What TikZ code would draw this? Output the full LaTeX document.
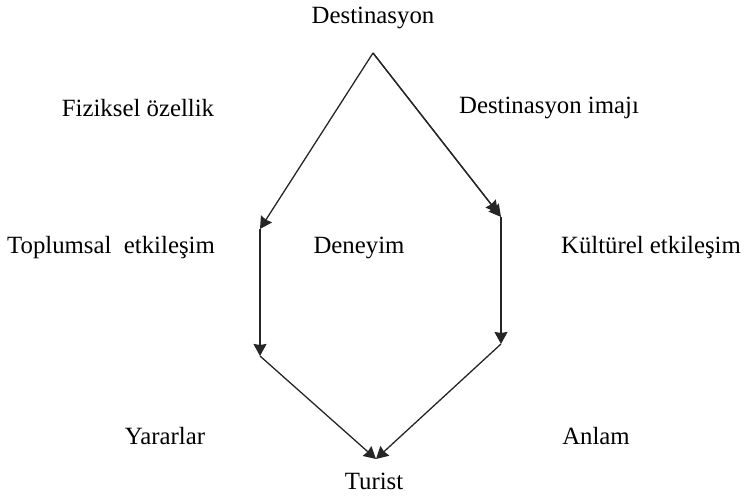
\documentclass[tikz,border=0pt]{standalone}
\usepackage{fontspec}
\setmainfont{Liberation Serif}
\usetikzlibrary{arrows.meta, positioning}

\begin{document}
\begin{tikzpicture}[
    x=0.5pt, y=-0.5pt,
    lbl/.style={font=\fontsize{12.4}{15}\selectfont, inner sep=0pt},
    flow/.style={-{Stealth[length=6pt, width=6.5pt, inset=0.5pt]}, line width=0.65pt, black!85},
]
\useasboundingbox (0,0) rectangle (746,497);

% Labels
\node[lbl] (dest) at (373,18) {Destinasyon};
\node[lbl] (fiz) at (138,108) {Fiziksel özellik};
\node[lbl] (imaj) at (549,108) {Destinasyon imajı};
\node[lbl] (toplum) at (111,248) {Toplumsal\ \ etkileşim};
\node[lbl] (deneyim) at (359,248) {Deneyim};
\node[lbl] (kultur) at (651,248) {Kültürel etkileşim};
\node[lbl] (yarar) at (165,436) {Yararlar};
\node[lbl] (anlam) at (596,436) {Anlam};
\node[lbl] (turist) at (374,481) {Turist};

% Corners of the hexagon
\coordinate (apex) at (373,53);
\coordinate (lt) at (260,229);
\coordinate (lb) at (260,356);
\coordinate (rt) at (501,217);
\coordinate (rt2) at (498,213);
\coordinate (rb) at (501,344);
\coordinate (bot) at (376,459);

% Arrows
\draw[flow] (apex) -- (lt);
\draw[flow] (apex) -- (rt);
\draw[flow] (apex) -- (rt2);
\draw[flow] (lt) -- (lb);
\draw[flow] (rt) -- (rb);
\draw[flow] (lb) -- (bot);
\draw[flow] (rb) -- (bot);

\end{tikzpicture}
\end{document}
